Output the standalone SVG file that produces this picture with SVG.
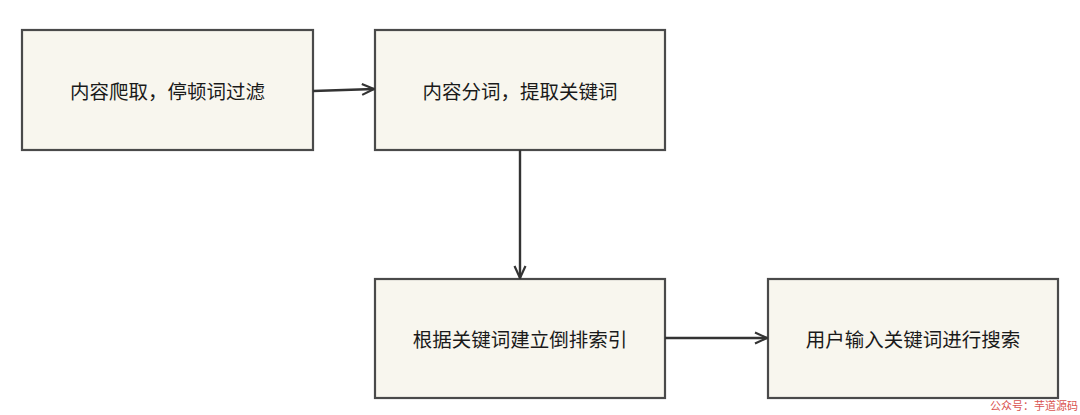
<svg xmlns="http://www.w3.org/2000/svg" width="1080" height="415" viewBox="0 0 1080 415">
<style>
.box{fill:#f8f6ee;stroke:#4a4a4a;stroke-width:2.2}
.lbl{font-family:"Noto Sans CJK SC","Noto Sans",sans-serif;font-size:19.5px;fill:#1a1a1a;text-anchor:middle;dominant-baseline:central}
.edge{stroke:#333;stroke-width:2.4;fill:none}
.wm{font-family:"Noto Sans CJK SC",serif;font-size:11px;fill:#d9534f}
</style>
<defs>
<marker id="ah" viewBox="0 0 14 14" refX="13" refY="7" markerWidth="14" markerHeight="14" markerUnits="userSpaceOnUse" orient="auto">
<path d="M1,1.5 L13,7 L1,12.5" fill="none" stroke="#333" stroke-width="2.2"/>
</marker>
</defs>
<rect width="1080" height="415" fill="#ffffff"/>
<g id="n1"><rect class="box" x="22" y="30" width="291" height="120"/><text class="lbl" x="167.5" y="90">内容爬取，停顿词过滤</text></g>
<g id="n2"><rect class="box" x="375" y="30" width="290" height="120"/><text class="lbl" x="520" y="90">内容分词，提取关键词</text></g>
<g id="n3"><rect class="box" x="375" y="279" width="290" height="119"/><text class="lbl" x="520" y="338">根据关键词建立倒排索引</text></g>
<g id="n4"><rect class="box" x="768" y="279" width="290" height="119"/><text class="lbl" x="913" y="338">用户输入关键词进行搜索</text></g>
<g id="edges">
<path class="edge" d="M313,91 L374,89" marker-end="url(#ah)"/>
<path class="edge" d="M520,150 L520,278" marker-end="url(#ah)"/>
<path class="edge" d="M665,338 L767,338" marker-end="url(#ah)"/>
</g>
<text class="wm" x="990" y="410">公众号：芋道源码</text>
</svg>
